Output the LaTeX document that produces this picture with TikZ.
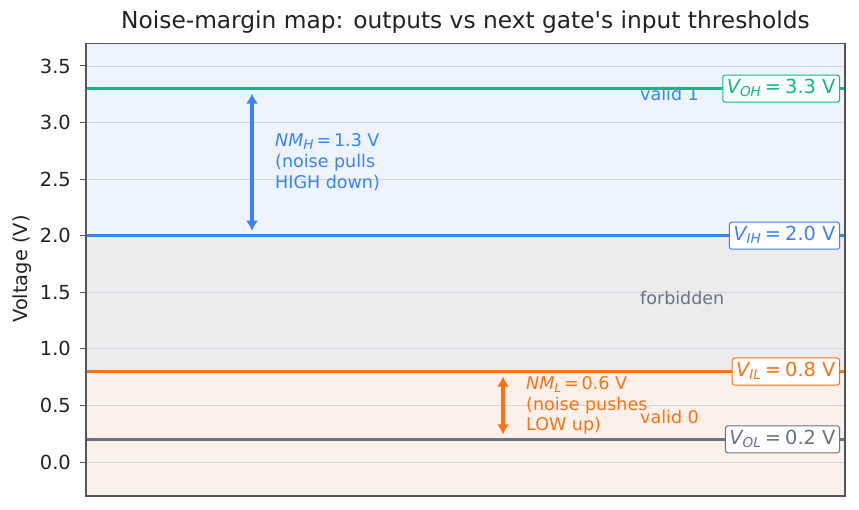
\documentclass[tikz,border=0pt]{standalone}
\usepackage{fontspec}
\setmainfont{DejaVu Sans}
\newfontfamily\rawdv{DejaVu Sans}[Ligatures=TeXOff]
\usetikzlibrary{arrows.meta}
\definecolor{cgreen}{HTML}{10B981}
\definecolor{cblue}{HTML}{3B82F6}
\definecolor{corange}{HTML}{F97316}
\definecolor{cgray}{HTML}{6B7280}
\definecolor{fblue}{HTML}{EEF4FE}
\definecolor{fgray}{HTML}{ECECEE}
\definecolor{forange}{HTML}{FCF1EA}
\definecolor{gridc}{HTML}{D2D4DA}
\definecolor{framec}{HTML}{555555}
\definecolor{txt}{HTML}{222222}
\newcommand{\subA}[1]{\raisebox{-3pt}{\fontsize{13.6}{14}\selectfont\itshape #1}}
\newcommand{\subB}[1]{\raisebox{-2.7pt}{\fontsize{12.2}{13}\selectfont\itshape #1}}
\newcommand{\eqA}{\hspace{4pt}=\hspace{4pt}}
\tikzset{
  ticklab/.style={anchor=east, text=txt, font=\fontsize{19.4}{23}\selectfont, inner sep=0pt},
  level/.style={line width=3pt},
  zone/.style={anchor=west, font=\fontsize{17.5}{21}\selectfont, inner sep=0pt},
  tag/.style={anchor=east, draw, fill=white, rounded corners=2.5pt, line width=1pt,
     font=\fontsize{19.4}{23}\selectfont, inner xsep=4pt, inner ysep=4.3pt,
     text height=14.5pt, text depth=4pt},
  nmtext/.style={anchor=west, align=left, font=\fontsize{17.5}{20.8}\selectfont, inner sep=0pt},
  nmarrow/.style={line width=3.4pt, {Latex[length=10pt,width=12pt]}-{Latex[length=10pt,width=12pt]}, shorten >=5pt, shorten <=5pt}
}
\begin{document}
\begin{tikzpicture}[x=1pt,y=-1pt]
\useasboundingbox (0,0) rectangle (859,510);
% zones
\fill[fblue] (86,43.4) rectangle (845,235.7);
\fill[fgray] (86,235.7) rectangle (845,371.5);
\fill[forange] (86,371.5) rectangle (845,495.9);
% grid, ticks
\foreach \v/\y in {0.0/462,0.5/405.4,1.0/348.9,1.5/292.3,2.0/235.7,2.5/179.2,3.0/122.6,3.5/66}{
  \draw[gridc, line width=0.8pt] (86,\y) -- (845,\y);
  \draw[framec, line width=1pt] (80,\y) -- (86,\y);
  \node[ticklab] (t\v) at (71,\y) {\v};
}
% zone labels
\node[zone, text=cblue] (valid1) at (640,94) {valid 1};
\node[zone, text=cgray] (forb) at (640,298) {forbidden};
\node[zone, text=corange] (valid0) at (640,417) {valid 0};
% level lines
\draw[level, cgreen] (86,88.6) -- (845,88.6);
\draw[level, cblue] (86,235.7) -- (845,235.7);
\draw[level, corange] (86,371.5) -- (845,371.5);
\draw[level, cgray] (86,439.4) -- (845,439.4);
% noise margins
\coordinate (hTop) at (252,88.6);
\coordinate (hBot) at (252,235.7);
\draw[nmarrow, cblue] (hTop) -- (hBot);
\node[nmtext, text=cblue] (nmh) at (275,162) {{\itshape NM}\subA{H}\,=\,1.3 V\\(noise pulls\\HIGH down)};
\coordinate (lTop) at (503,371.5);
\coordinate (lBot) at (503,439.4);
\draw[nmarrow, corange] (lTop) -- (lBot);
\node[nmtext, text=corange] (nml) at (526,405.5) {{\itshape NM}\subB{L}\,=\,0.6 V\\(noise pushes\\LOW up)};
% tags
\node[tag, draw=cgreen, text=cgreen] (voh) at (840,88.6) {{\itshape V}\subA{OH}\eqA 3.3 V};
\node[tag, draw=cblue, text=cblue] (vih) at (840,235.7) {{\itshape V}\subA{IH}\eqA 2.0 V};
\node[tag, draw=corange, text=corange] (vil) at (840,371.5) {{\itshape V}\subA{IL}\eqA 0.8 V};
\node[tag, draw=cgray, text=cgray] (vol) at (840,439.4) {{\itshape V}\subA{OL}\eqA 0.2 V};
% frame
\draw[framec, line width=1.2pt] (86,43.4) rectangle (845,495.9);
% title and axis label
\node[text=txt, font=\fontsize{23.3}{27}\selectfont\rawdv, inner sep=0pt] (title) at (465.5,22) {Noise-margin map: outputs vs next gate's input thresholds};
\node[text=txt, font=\fontsize{19.4}{23}\selectfont, rotate=90, inner sep=0pt] (ylab) at (22,269) {Voltage (V)};
\end{tikzpicture}
\end{document}
